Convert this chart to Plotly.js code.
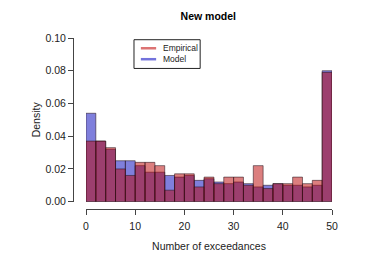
<!DOCTYPE html>
<html>
<head>
<meta charset="utf-8">
<script src="https://cdn.plot.ly/plotly-3.0.1.min.js"></script>
<style>html,body{margin:0;padding:0;background:#fff;}#chart{width:374px;height:267px;}</style>
</head>
<body>
<div id="chart"></div>
<script>
// Bin centres (breaks every 2 from 0 to 50)
const binCenters = [1,3,5,7,9,11,13,15,17,19,21,23,25,27,29,31,33,35,37,39,41,43,45,47,49];
const empirical = [0.037,0.037,0.033,0.020,0.016,0.024,0.024,0.022,0.007,0.017,0.017,0.009,0.015,0.011,0.015,0.015,0.010,0.022,0.008,0.011,0.011,0.015,0.011,0.013,0.079];
const model     = [0.054,0.037,0.032,0.025,0.025,0.022,0.018,0.018,0.016,0.015,0.016,0.013,0.014,0.012,0.011,0.012,0.011,0.009,0.010,0.011,0.010,0.010,0.009,0.010,0.080];
const xTicks = [0,10,20,30,40,50];
const yTicks = [0,0.02,0.04,0.06,0.08,0.10];
const seriesNames = ['Empirical','Model'];

const redFill = 'rgba(185,0,0,0.5)';
const blueFill = 'rgba(0,0,185,0.5)';
const edge = {color:'rgba(40,20,30,0.55)', width:1};

const traces = [
  {type:'bar', name:seriesNames[1], x:binCenters, y:model, width:2, marker:{color:blueFill, line:edge}, showlegend:false, hoverinfo:'skip'},
  {type:'bar', name:seriesNames[0], x:binCenters, y:empirical, width:2, marker:{color:redFill, line:edge}, showlegend:false, hoverinfo:'skip'}
];

const font = {family:'Liberation Sans, Arial, sans-serif', size:10.5, color:'#222'};
const legFont = {family:'Liberation Sans, Arial, sans-serif', size:8.5, color:'#222'};

// Legend box drawn in R style (compact), positioned in paper coordinates
const legendColors = ['rgba(220,115,115,1)','rgba(115,115,220,1)'];
const legendY = [0.940, 0.876];
const shapes = [
  {type:'rect', xref:'paper', yref:'paper', x0:0.2355, x1:0.491, y0:0.822, y1:0.990, line:{color:'#222', width:1}, fillcolor:'#fff', layer:'above'}
];
const annotations = [];
seriesNames.forEach((n,i)=>{
  shapes.push({type:'line', xref:'paper', yref:'paper', x0:0.262, x1:0.321, y0:legendY[i], y1:legendY[i], line:{color:legendColors[i], width:2.5}, layer:'above'});
  annotations.push({xref:'paper', yref:'paper', x:0.338, y:legendY[i], xanchor:'left', yanchor:'middle', text:n, showarrow:false, font:legFont});
});

const layout = {
  width:374, height:267,
  margin:{l:73, r:42, t:38, b:58, pad:0},
  paper_bgcolor:'#fff', plot_bgcolor:'#fff',
  font:font,
  barmode:'overlay', bargap:0,
  showlegend:false,
  shapes:shapes, annotations:annotations,
  title:{text:'<b>New model</b>', x:0.557, xanchor:'center', y:0.94, yanchor:'middle', font:{family:'Liberation Sans, Arial, sans-serif', size:10.5, color:'#000'}},
  xaxis:{domain:[0.0502,1], range:[0,50], anchor:'free', position:0,
    tickmode:'array', tickvals:xTicks, ticktext:xTicks.map(String),
    ticks:'outside', ticklen:5, tickcolor:'#444', showline:true, linecolor:'#444', linewidth:1,
    showgrid:false, zeroline:false, tickfont:font, ticklabelstandoff:2,
    title:{text:'Number of exceedances', font:font, standoff:12}},
  yaxis:{domain:[0.043,1], range:[0,0.1], anchor:'free', position:0,
    tickmode:'array', tickvals:yTicks, ticktext:yTicks.map(v=>v.toFixed(2)),
    ticks:'outside', ticklen:5, tickcolor:'#444', showline:true, linecolor:'#444', linewidth:1,
    showgrid:false, zeroline:false, tickfont:font,
    title:{text:'Density', font:font, standoff:1}}
};
Plotly.newPlot('chart', traces, layout, {staticPlot:true, displayModeBar:false});
</script>
</body>
</html>
